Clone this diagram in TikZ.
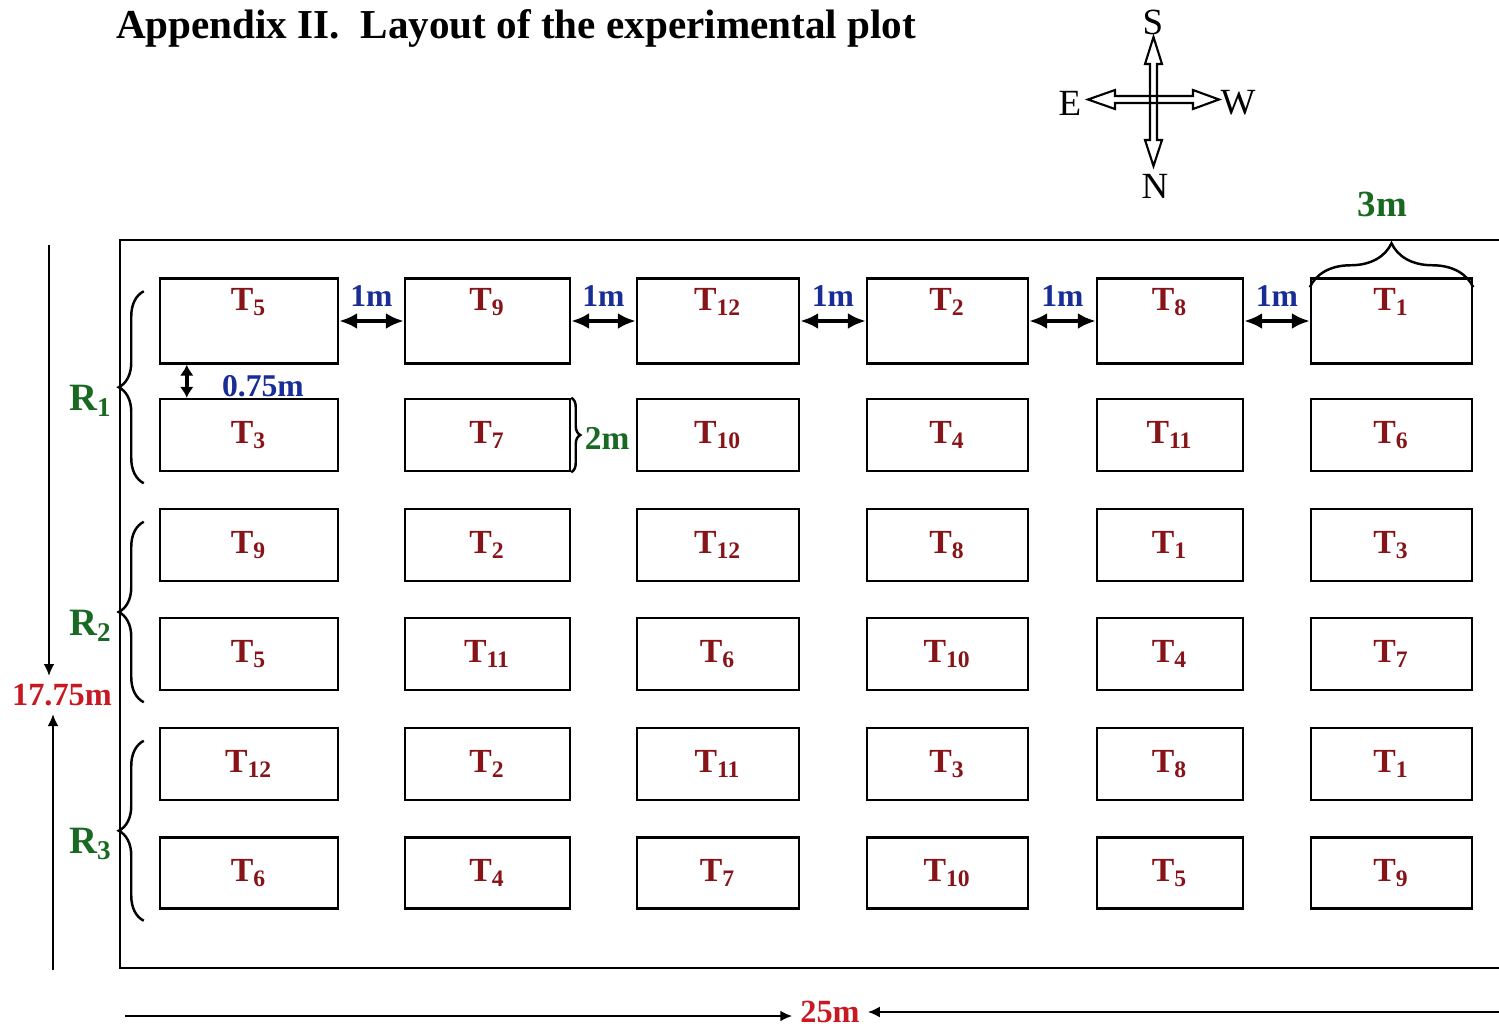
\documentclass[tikz,border=0pt]{standalone}
\usepackage{fontspec}
\setmainfont{Liberation Serif}
\usetikzlibrary{
arrows.meta,
calc,
decorations.pathreplacing,
positioning
}
\tikzset{>=latex}
\definecolor{plotred}{RGB}{135,20,25}
\definecolor{lenred}{RGB}{200,25,35}
\definecolor{dimblue}{RGB}{25,45,150}
\definecolor{repgreen}{RGB}{25,105,35}

\begin{document}
\begin{tikzpicture}[x=0.01cm, y=-0.01cm, line width=0.6pt,
		plotbox/.style={draw,line width=0.7pt,inner sep=0pt},
		tlab/.style={font=\fontsize{9.6}{12}\selectfont\bfseries,text=plotred},
		dimlab/.style={font=\fontsize{9}{11}\selectfont\bfseries,text=dimblue,inner sep=1pt},
		replab/.style={font=\fontsize{11}{13}\selectfont\bfseries,text=repgreen,inner sep=1pt},
		lenlab/.style={font=\fontsize{9.2}{11}\selectfont\bfseries,text=lenred,inner sep=2pt},
		dimarrow/.style={<->,>={Latex[length=1.8mm,width=1.6mm]},line width=1pt},
		lenarrow/.style={->,>={Latex[length=1.2mm,width=1.1mm]},line width=0.7pt},
		repbrace/.style={decorate,decoration={brace,amplitude=2.5mm},line width=0.7pt},
		compass/.style={line width=0.6pt,line join=miter}]
		\useasboundingbox (0,0) rectangle (1499,1030);

		% title
		\node[anchor=base west,inner sep=0,font=\fontsize{11.7}{14}\selectfont\bfseries] (title) at (115,38) {Appendix II.\ \ Layout of the experimental plot};

		% compass
		\draw[compass] (1150,64) -- (1145,64) -- (1153.5,37) -- (1162,64) -- (1157,64) -- (1157,140) -- (1162,140) -- (1153.5,166) -- (1145,140) -- (1150,140) -- cycle;
		\draw[compass] (1115,96) -- (1115,90) -- (1088,99.5) -- (1115,109) -- (1115,103) -- (1193,103) -- (1193,109) -- (1219,99.5) -- (1193,90) -- (1193,96) -- cycle;
		\node[font=\fontsize{10.5}{12}\selectfont] (cS) at (1153,22) {S};
		\node[font=\fontsize{10.5}{12}\selectfont] (cN) at (1155,186) {N};
		\node[font=\fontsize{10.5}{12}\selectfont] (cE) at (1070,103) {E};
		\node[font=\fontsize{10.5}{12}\selectfont] (cW) at (1238,103) {W};

		% field
		\draw[line width=0.8pt] (1499,240) -| (120,968) -- (1499,968);

		% plots
		\foreach \r/\cy/\h in {1/321/85, 2/435/72, 3/545/72, 4/654/72, 5/764/72, 6/873/71}
			\foreach \c/\cx/\w in {1/249/178, 2/487.5/165, 3/718/162, 4/947.5/161, 5/1170/146, 6/1391.5/161}
				\node[plotbox,minimum width=\w*0.01cm,minimum height=\h*0.01cm] (b\r\c) at (\cx,\cy) {};

		\foreach \r/\dy/\names in {1/1.9/{5,9,12,2,8,1}, 2/0/{3,7,10,4,11,6}, 3/0/{9,2,12,8,1,3},
				4/0/{5,11,6,10,4,7}, 5/0/{12,2,11,3,8,1}, 6/0/{6,4,7,10,5,9}}
			\foreach \t [count=\c] in \names
				\node[tlab,yshift=\dy mm] (t\r\c) at (b\r\c) {T\textsubscript{\t}};

		% spacings
		\foreach \c [evaluate=\c as \n using int(\c+1)] in {1,...,5}
			\draw[dimarrow] (b1\c) -- (b1\n) node[midway,yshift=2.5mm,dimlab] {1m};
		\draw[dimarrow,>={Latex[length=1.1mm,width=1.4mm]}] ($(b11.south west)+(28,0)$) -- ($(b21.north west)+(28,0)$)
			node[midway,right=3mm,yshift=-0.5mm,dimlab] {0.75m};

		\draw[decorate,decoration={brace,amplitude=0.9mm},line width=0.7pt] (b22.north east) -- (b22.south east);
		\node[replab,font=\fontsize{9.5}{12}\selectfont\bfseries,anchor=west] (lab2m) at ($(b22.east)+(9,3)$) {2m};

		\draw[decorate,decoration={brace,amplitude=4.4mm},line width=0.7pt] ($(b16.north west)+(0,10)$) -- ($(b16.north east)+(0,10)$);
		\node[replab,font=\fontsize{10.5}{13}\selectfont\bfseries] (lab3m) at ($(b16.north)+(-9,-73)$) {3m};

		% replications
		\foreach \top/\bot/\k in {1/2/1, 3/4/2, 5/6/3} {
			\draw[repbrace] ($(b\bot1.south west)+(-15,11)$) -- ($(b\top1.north west)+(-15,14)$);
			\node[replab] (rep\k) at ($(b\top1.north west)!0.5!(b\bot1.south west)+(-68,26)$) {R\textsubscript{\k}};
		}

		% total size
		\node[lenlab] (hlen) at (62,695) {17.75m};
		\coordinate (ltop) at (49,245);
		\coordinate (lbot) at (53,970);
		\draw[lenarrow] (ltop) -- (ltop |- hlen.north);
		\draw[lenarrow] (lbot) -- (lbot |- hlen.south);

		\node[lenlab] (wlen) at (830,1012) {25m};
		\coordinate (wl) at (125,1016);
		\coordinate (wr) at (1499,1012);
		\draw[lenarrow] (wl) -- (wl -| wlen.west);
		\draw[lenarrow] (wr) -- (wlen.east);
\end{tikzpicture}
\end{document}
